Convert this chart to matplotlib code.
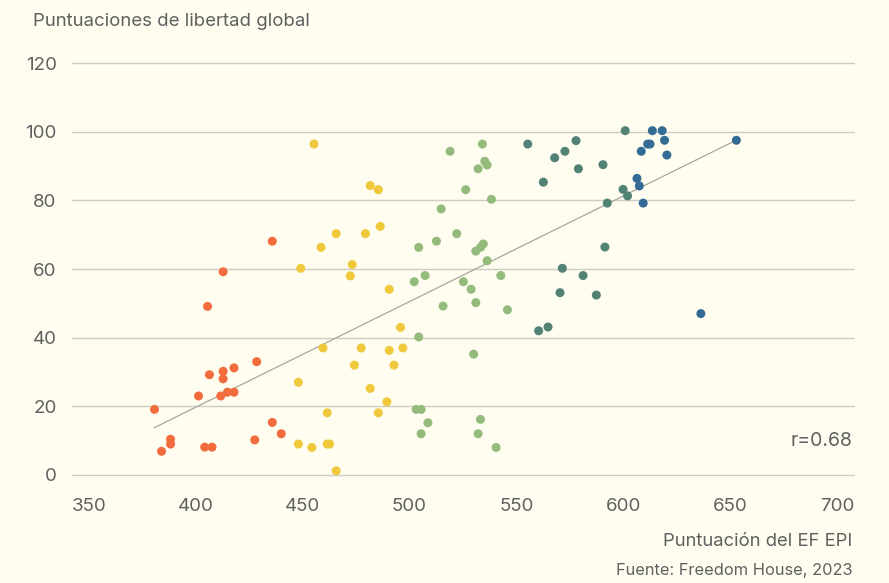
import numpy as np
import matplotlib
matplotlib.use("Agg")
import matplotlib.pyplot as plt

plt.rcParams['font.family'] = ['Inter', 'DejaVu Sans']

# EF EPI score (x) and global freedom score (y), grouped by EPI band
orange_x = [435.8, 412.8, 405.5, 428.5, 417.9, 412.8, 406.4, 412.8, 401.3, 411.7, 414.8,
            417.9, 380.7, 435.8, 440.0, 427.6, 388.2, 388.2, 384.0, 404.2, 407.6]
orange_y = [68.1, 59.2, 49.1, 33.0, 31.2, 30.2, 29.2, 28.0, 23.0, 23.0, 24.1,
            24.1, 19.1, 15.3, 12.0, 10.2, 10.4, 9.0, 6.9, 8.1, 8.1]

yellow_x = [455.3, 481.6, 485.4, 486.3, 465.7, 479.4, 458.6, 473.2, 449.1, 472.3, 490.5,
            495.8, 459.5, 477.4, 496.9, 490.5, 474.2, 492.7, 448.0, 481.6, 489.4, 461.5,
            485.4, 448.0, 454.3, 461.5, 462.6, 465.7]
yellow_y = [96.4, 84.3, 83.1, 72.4, 70.3, 70.3, 66.3, 61.3, 60.2, 58.0, 54.1,
            43.0, 37.0, 37.0, 37.0, 36.3, 32.0, 32.0, 27.0, 25.2, 21.3, 18.1,
            18.1, 9.0, 8.0, 9.0, 9.0, 1.2]

green_x = [534.1, 519.0, 535.2, 536.3, 532.1, 526.3, 538.3, 514.8, 522.1, 512.6, 504.3,
           531.0, 533.2, 534.5, 536.3, 507.3, 542.7, 502.2, 525.2, 528.8, 515.7, 531.0,
           545.8, 504.3, 530.0, 503.1, 505.4, 508.6, 533.2, 505.4, 532.1, 540.5]
green_y = [96.4, 94.3, 91.4, 90.3, 89.2, 83.1, 80.3, 77.5, 70.3, 68.1, 66.3,
           65.2, 66.3, 67.3, 62.4, 58.1, 58.1, 56.3, 56.3, 54.1, 49.2, 50.2,
           48.1, 40.2, 35.2, 19.1, 19.1, 15.2, 16.2, 12.0, 12.0, 8.0]

teal_x = [555.3, 577.9, 572.7, 567.9, 600.9, 590.5, 579.0, 562.6, 599.9, 602.0, 592.5,
          591.4, 571.5, 581.2, 570.4, 587.4, 560.4, 564.8]
teal_y = [96.4, 97.4, 94.3, 92.4, 100.3, 90.4, 89.2, 85.3, 83.2, 81.3, 79.2,
          66.4, 60.2, 58.1, 53.1, 52.4, 42.0, 43.1]

blue_x = [613.6, 618.2, 611.4, 612.5, 619.3, 608.4, 620.4, 606.4, 607.5, 609.3, 652.9, 636.3]
blue_y = [100.3, 100.3, 96.4, 96.4, 97.5, 94.3, 93.2, 86.4, 84.2, 79.2, 97.5, 47.0]

x_ticks = [350, 400, 450, 500, 550, 600, 650, 700]
y_ticks = [0, 20, 40, 60, 80, 100, 120]

groups = [
    (orange_x, orange_y, '#f26c3d'),
    (yellow_x, yellow_y, '#f0c83c'),
    (green_x, green_y, '#95bb7c'),
    (teal_x, teal_y, '#528276'),
    (blue_x, blue_y, '#336b95'),
]

bg = '#fefdf0'
txt = '#606060'

fig = plt.figure(figsize=(8.89, 5.83), dpi=100, facecolor=bg)
ax = fig.add_axes([72 / 889, 1 - 477 / 583, (855 - 72) / 889, (477 - 61) / 583])
ax.set_facecolor(bg)

all_x = np.concatenate([np.array(g[0]) for g in groups])
all_y = np.concatenate([np.array(g[1]) for g in groups])
slope, intercept = np.polyfit(all_x, all_y, 1)
lx = np.array([all_x.min(), all_x.max()])
ax.plot(lx, slope * lx + intercept, color='#a8a79c', lw=0.9, zorder=2)

for gx, gy, c in groups:
    ax.scatter(gx, gy, s=42, color=c, edgecolors='none', zorder=3, clip_on=False)

ax.set_xlim(342.1, 708.4)
ax.set_ylim(-0.6, 120.6)
ax.set_xticks(x_ticks)
ax.set_yticks(y_ticks)
ax.grid(axis='y', color='#cfcdc2', lw=1.0)
ax.set_axisbelow(True)
for s in ax.spines.values():
    s.set_visible(False)
ax.tick_params(axis='both', length=0, labelsize=13.5, labelcolor=txt)
ax.tick_params(axis='x', pad=15)
ax.tick_params(axis='y', pad=11)

fig.text(33 / 889, 1 - 22 / 583, 'Puntuaciones de libertad global', fontsize=13.4,
         color=txt, ha='left', va='center')
fig.text(852 / 889, 1 - 441 / 583, 'r=0.68', fontsize=14, color=txt,
         ha='right', va='center')
fig.text(852 / 889, 1 - 542 / 583, 'Puntuación del EF EPI', fontsize=13.3, color=txt,
         ha='right', va='center')
fig.text(852 / 889, 1 - 571 / 583, 'Fuente: Freedom House, 2023', fontsize=11.8,
         color=txt, ha='right', va='center')

fig.savefig('out.png', dpi=100, facecolor=bg)
